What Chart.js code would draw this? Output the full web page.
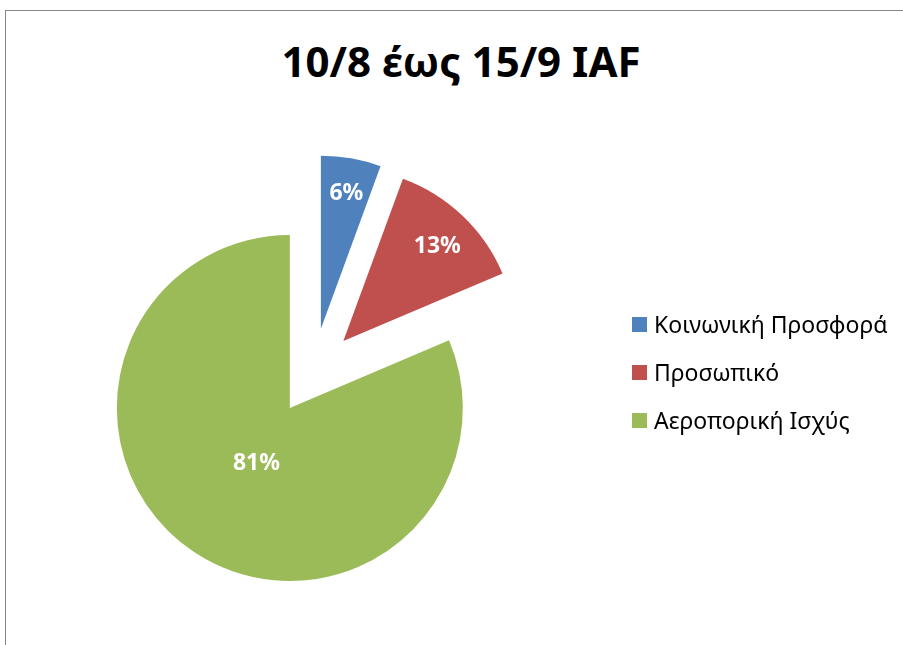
<!DOCTYPE html>
<html>
<head>
<meta charset="utf-8">
<script src="https://cdn.jsdelivr.net/npm/chart.js@4.4.1/dist/chart.umd.min.js"></script>
<style>
  html, body { margin: 0; padding: 0; width: 903px; height: 645px; overflow: hidden; background: #fff; font-family: "Noto Sans", sans-serif; }
  #frame { position: absolute; left: 5px; top: 10px; width: 1000px; height: 1000px; border-left: 1px solid #878787; border-top: 1px solid #878787; }
  #title { position: absolute; left: 0; top: 40px; width: 922px; text-align: center; font-weight: bold; font-size: 42px; line-height: 42px; color: #000; }
  #wrap { position: absolute; left: 0; top: 0; width: 903px; height: 645px; }
  #legend { position: absolute; left: 632px; top: 300px; }
  .item { height: 48px; display: flex; align-items: center; font-size: 23px; color: #000; }
  .box { width: 15px; height: 15px; margin-right: 7px; }
</style>
</head>
<body>
<div id="frame"></div>
<div id="title">10/8 έως 15/9 IAF</div>
<div id="wrap"><canvas id="pie" width="903" height="645"></canvas></div>
<div id="legend"></div>
<script>
var labels = ["Κοινωνική Προσφορά", "Προσωπικό", "Αεροπορική Ισχύς"];
var values = [5.6, 13.0, 81.4];
var colors = ["#4F81BD", "#C0504D", "#9BBB59"];

// how far each slice is pulled out, and where its % label sits (fraction of radius)
var explode = [45, 44, 42];
var labelPos = [0.81, 0.78, 0.36];

var total = values.reduce(function(a, b) { return a + b; }, 0);

var explodePlugin = {
  id: 'explode',
  afterDatasetsUpdate: function(chart) {
    var meta = chart.getDatasetMeta(0);
    meta.data.forEach(function(arc, i) {
      var mid = (arc.startAngle + arc.endAngle) / 2;
      arc.x += Math.cos(mid) * explode[i];
      arc.y += Math.sin(mid) * explode[i];
    });
  }
};

var pctPlugin = {
  id: 'pctLabels',
  afterDatasetsDraw: function(chart) {
    var ctx = chart.ctx;
    var meta = chart.getDatasetMeta(0);
    ctx.save();
    ctx.fillStyle = "#fff";
    ctx.font = "bold 23px 'Noto Sans'";
    ctx.textAlign = "center";
    ctx.textBaseline = "middle";
    meta.data.forEach(function(arc, i) {
      var mid = (arc.startAngle + arc.endAngle) / 2;
      var r = arc.outerRadius * labelPos[i];
      var txt = Math.round(values[i] / total * 100) + "%";
      ctx.fillText(txt, arc.x + Math.cos(mid) * r + 1, arc.y + Math.sin(mid) * r + 3);
    });
    ctx.restore();
  }
};

var ctx = document.getElementById("pie").getContext('2d');
var myChart = new Chart(ctx, {
  type: 'pie',
  data: {
    labels: labels,
    datasets: [{
      data: values,
      backgroundColor: colors,
      borderWidth: 0,
      clip: false
    }]
  },
  options: {
    responsive: false,
    animation: false,
    events: [],
    layout: { padding: { left: 140, right: 417, top: 200, bottom: 99 } },
    plugins: {
      legend: { display: false },
      tooltip: { enabled: false },
      title: { display: false }
    }
  },
  plugins: [explodePlugin, pctPlugin]
});

// legend built from the same arrays
var legend = document.getElementById("legend");
for (var i = 0; i < labels.length; i++) {
  var item = document.createElement("div");
  item.className = "item";
  var box = document.createElement("span");
  box.className = "box";
  box.style.background = colors[i];
  var txt = document.createElement("span");
  txt.textContent = labels[i];
  item.appendChild(box);
  item.appendChild(txt);
  legend.appendChild(item);
}
</script>
</body>
</html>
